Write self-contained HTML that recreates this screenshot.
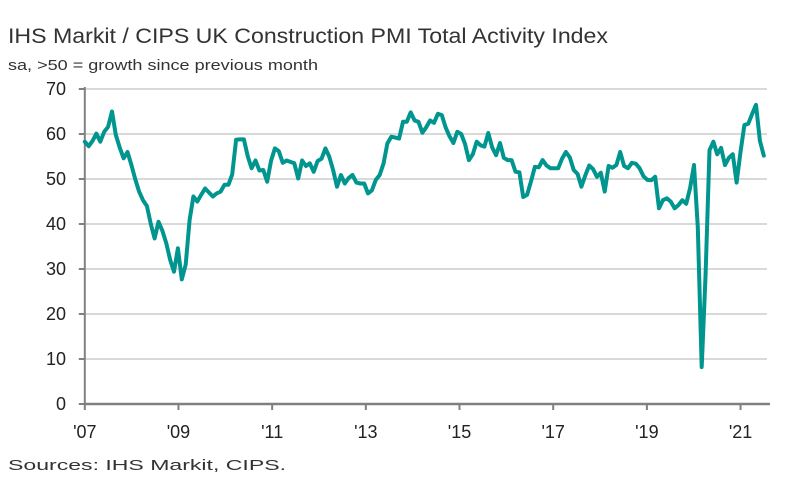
<!DOCTYPE html>
<html><head><meta charset="utf-8"><style>
body{margin:0;background:#fff;}
svg{display:block;font-family:"Liberation Sans",sans-serif;}
</style></head><body>
<svg id="chart" width="791" height="487" viewBox="0 0 791 487">
<text x="8" y="43" font-size="21" fill="#333" textLength="600" lengthAdjust="spacingAndGlyphs">IHS Markit / CIPS UK Construction PMI Total Activity Index</text>
<text x="8" y="70" font-size="15" fill="#333" textLength="310" lengthAdjust="spacingAndGlyphs">sa, &gt;50 = growth since previous month</text>
<text x="8" y="470" font-size="15" fill="#333" textLength="278" lengthAdjust="spacingAndGlyphs">Sources: IHS Markit, CIPS.</text>
<g id="grid"></g><g id="axes"></g><g id="series"></g>
</svg>
<script>
const yTicks=[0,10,20,30,40,50,60,70];
const xTickLabels=["'07","'09","'11","'13","'15","'17","'19","'21"];
const xTickYears=[2007,2009,2011,2013,2015,2017,2019,2021];
const startYear=2007;
const pmiValues=[58.3,57.3,58.5,60.1,58.3,60.5,61.6,65,59.8,57,54.6,56,
53.1,50,47.2,45.3,44,40,36.8,40.5,38.5,35.7,32,29.4,
34.6,27.7,31,40.9,46.1,45,46.5,47.9,47,46.1,46.8,47.2,
48.7,48.7,51,58.7,58.8,58.8,55,52.4,54.1,51.9,52,49.4,
54,56.8,56.2,53.6,54.1,53.8,53.5,50.1,54.1,52.9,53.5,51.6,
54,54.5,56.8,55,52,48.3,50.9,49,50.2,50.9,49.2,49,
49,46.8,47.5,49.8,50.9,53.5,57.9,59.4,59.2,59,62.7,62.7,
64.8,63,62.7,60.3,61.5,63,62.5,64.5,64.2,61.5,59.5,58,
60.5,60,57.8,54.2,55.5,58.3,57.5,57.2,60.2,57,55.3,58,
54.7,54.2,54.2,51.6,51.5,46,46.5,49.5,52.7,52.6,54.2,53,
52.4,52.4,52.4,54.5,56,54.8,52,51.1,48.3,50.8,53,52.2,
50.5,51.4,47.2,52.9,52.5,53.1,56,52.9,52.4,53.6,53.4,52.4,
50.6,49.8,49.7,50.5,43.5,45.3,45.7,45,43.5,44.2,45.3,44.5,
48,53.1,39.3,8.2,28.9,56.4,58.3,55.5,56.9,53.1,54.7,55.5,
49.2,56,62,62.3,64.5,66.5,58.5,55.2];
const NS="http://www.w3.org/2000/svg";
const X0=84.8, MW=3.88, Y0=404, YU=4.5, XEND=770;
function xs(i){return X0+i*MW;}
function ys(v){return Y0-v*YU;}
function mk(t,a,p){const e=document.createElementNS(NS,t);for(const k in a)e.setAttribute(k,a[k]);p.appendChild(e);return e;}
const grid=document.getElementById('grid'),axes=document.getElementById('axes'),ser=document.getElementById('series');
yTicks.forEach(v=>{
  if(v>0){const g=mk('line',{x1:X0,x2:767,y1:ys(v),y2:ys(v),stroke:'#d9d9d9','stroke-width':2},grid);
  
  }
  const t=mk('line',{x1:X0-6,x2:X0,y1:ys(v),y2:ys(v),stroke:'#808080','stroke-width':2},axes);
  
  
  const l=mk('text',{x:66,y:ys(v)+6,'text-anchor':'end','font-size':18,fill:'#222'},axes);
  l.textContent=v;
  
  
});
const ya=mk('line',{x1:X0,x2:X0,y1:ys(70)-2,y2:Y0,stroke:'#808080','stroke-width':2},axes);


const xa=mk('line',{x1:X0,x2:XEND,y1:Y0,y2:Y0,stroke:'#808080','stroke-width':2.5},axes);


xTickYears.forEach((yr,k)=>{
  const x=X0+(yr-startYear)*12*MW*1.006;
  const t=mk('line',{x1:x,x2:x,y1:Y0,y2:Y0+6,stroke:'#808080','stroke-width':2},axes);
  
  
  const l=mk('text',{x:x,y:Y0+34,'text-anchor':'middle','font-size':18,fill:'#222'},axes);
  l.textContent=xTickLabels[k];
  
  
});
const d=pmiValues.map((v,i)=>(i?'L':'M')+xs(i).toFixed(1)+','+ys(v).toFixed(1)).join('');
const p=mk('path',{d:d,fill:'none',stroke:'#00958f','stroke-width':4,'stroke-linejoin':'round','stroke-linecap':'round'},ser);


</script>
</body></html>
